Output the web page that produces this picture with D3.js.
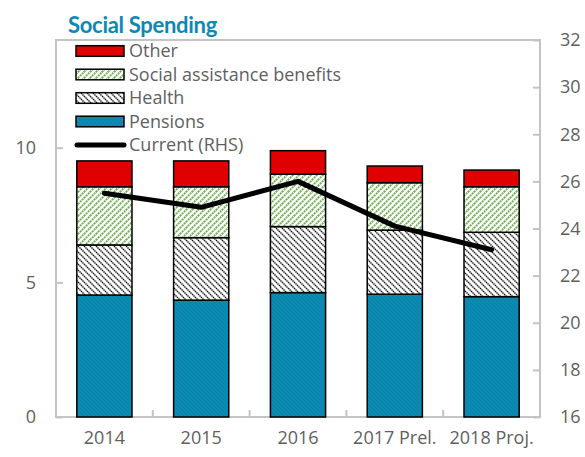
<!DOCTYPE html>
<html>
<head>
<meta charset="utf-8">
<script src="https://cdn.jsdelivr.net/npm/d3@7"></script>
<style>
  body { margin: 0; background: #fff; }
  text { font-family: "Open Sans", sans-serif; fill: #5f5f5f; }
</style>
</head>
<body>
<svg id="chart" width="585" height="457"></svg>
<script>
// Social spending, percent of GDP (left axis), and current spending (right axis)
const years = ["2014", "2015", "2016", "2017 Prel.", "2018 Proj."];
const pensions = [4.53, 4.34, 4.62, 4.56, 4.47];
const health = [1.86, 2.32, 2.45, 2.38, 2.39];
const socialAssistance = [2.16, 1.89, 1.95, 1.76, 1.69];
const other = [0.96, 0.96, 0.87, 0.62, 0.62];
const currentRHS = [25.5, 24.9, 26.0, 24.1, 23.1];

const leftTicks = [0, 5, 10];
const rightTicks = [16, 18, 20, 22, 24, 26, 28, 30, 32];

const seriesNames = ["Pensions", "Health", "Social assistance benefits", "Other"];
const seriesValues = [pensions, health, socialAssistance, other];

const svg = d3.select("#chart");
const L = 56, R = 540, T = 40, B = 417;

// hatch patterns
const defs = svg.append("defs");
function hatch(id, size, dir, stroke, width, bg, dash) {
  const p = defs.append("pattern").attr("id", id)
    .attr("patternUnits", "userSpaceOnUse").attr("width", size).attr("height", size);
  p.append("rect").attr("width", size).attr("height", size).attr("fill", bg);
  const s = size;
  const d = dir === "/"
    ? `M${-1},1 l2,-2 M0,${s} l${s},${-s} M${s - 1},${s + 1} l2,-2`
    : `M${-1},${s - 1} l2,2 M0,0 l${s},${s} M${s - 1},-1 l2,2`;
  p.append("path").attr("d", d).attr("stroke", stroke).attr("stroke-width", width)
    .attr("stroke-dasharray", dash || null);
}
hatch("hGreen", 6, "/", "#6fb04f", 1.8, "#ffffff", "2,0.8");
hatch("hHealth", 6, "\\", "#111111", 1.4, "#ffffff", "1.5,0.6");
hatch("hPension", 4, "\\", "#0a80a6", 0.8, "#0b8ab2");

const fills = {
  "Pensions": "url(#hPension)",
  "Health": "url(#hHealth)",
  "Social assistance benefits": "url(#hGreen)",
  "Other": "#e00000"
};

const x = d3.scaleBand().domain(years).range([L, R]).paddingInner(0.43).paddingOuter(0.215);
const yL = d3.scaleLinear().domain([0, 14]).range([B, T]);
const yR = d3.scaleLinear().domain([16, 32]).range([B, T]);

// stacked data
const table = years.map((yr, i) => {
  const row = { year: yr };
  seriesNames.forEach((n, k) => row[n] = seriesValues[k][i]);
  return row;
});
const stacked = d3.stack().keys(seriesNames)(table);

// frame
svg.append("rect").attr("x", L).attr("y", T).attr("width", R - L).attr("height", B - T)
  .attr("fill", "none").attr("stroke", "#c4c4c4").attr("stroke-width", 2);

// bars
svg.append("g").selectAll("g").data(stacked).join("g")
  .attr("fill", d => fills[d.key])
  .selectAll("rect").data(d => d).join("rect")
  .attr("x", d => x(d.data.year))
  .attr("width", x.bandwidth())
  .attr("y", d => yL(d[1]))
  .attr("height", d => yL(d[0]) - yL(d[1]))
  .attr("stroke", "#000").attr("stroke-width", 1.5);

// axes
const axisStyle = g => {
  g.select(".domain").remove();
  g.selectAll(".tick line").attr("stroke", "#c4c4c4").attr("stroke-width", 2);
  g.selectAll(".tick text").attr("font-size", 18).attr("fill", "#5f5f5f")
    .style("font-family", "'Open Sans', sans-serif");
};
svg.append("g").attr("transform", `translate(${L},0)`)
  .call(d3.axisLeft(yL).tickValues(leftTicks).tickSize(-7).tickPadding(20))
  .call(axisStyle);
svg.append("g").attr("transform", `translate(${R},0)`)
  .call(d3.axisRight(yR).tickValues(rightTicks).tickSize(-7).tickPadding(20))
  .call(axisStyle);
svg.append("g").attr("transform", `translate(0,${B})`)
  .call(d3.axisBottom(x).tickSize(0).tickPadding(14))
  .call(axisStyle);

// category separators on the bottom axis
const step = x.step();
svg.append("g").selectAll("line").data(years.slice(0, -1)).join("line")
  .attr("x1", d => x(d) + x.bandwidth() + (step - x.bandwidth()) / 2)
  .attr("x2", d => x(d) + x.bandwidth() + (step - x.bandwidth()) / 2)
  .attr("y1", B).attr("y2", B - 7)
  .attr("stroke", "#c4c4c4").attr("stroke-width", 2);

// current spending line (RHS)
const line = d3.line()
  .x((d, i) => x(years[i]) + x.bandwidth() / 2)
  .y(d => yR(d));
svg.append("path").datum(currentRHS).attr("d", line)
  .attr("fill", "none").attr("stroke", "#000").attr("stroke-width", 5)
  .attr("stroke-linejoin", "round").attr("stroke-linecap", "round");

// legend
const legendItems = ["Other", "Social assistance benefits", "Health", "Pensions", "Current (RHS)"];
const lg = svg.append("g");
legendItems.forEach((name, i) => {
  const cy = 51 + i * 23.5;
  if (name === "Current (RHS)") {
    lg.append("line").attr("x1", 77).attr("x2", 124).attr("y1", cy).attr("y2", cy)
      .attr("stroke", "#000").attr("stroke-width", 5).attr("stroke-linecap", "round");
  } else {
    lg.append("rect").attr("x", 76).attr("y", cy - 5.3).attr("width", 48).attr("height", 10.6)
      .attr("fill", fills[name]).attr("stroke", "#000").attr("stroke-width", 1.5);
  }
  lg.append("text").attr("x", 129).attr("y", cy).attr("dy", "0.36em")
    .attr("font-size", 18).text(name);
});

// title
svg.append("text").attr("x", 68).attr("y", 33)
  .style("font-family", "Lato, sans-serif").style("font-weight", 700)
  .attr("font-size", 22).style("fill", "#0d87b3")
  .attr("letter-spacing", -0.3)
  .text("Social Spending");
</script>
</body>
</html>
